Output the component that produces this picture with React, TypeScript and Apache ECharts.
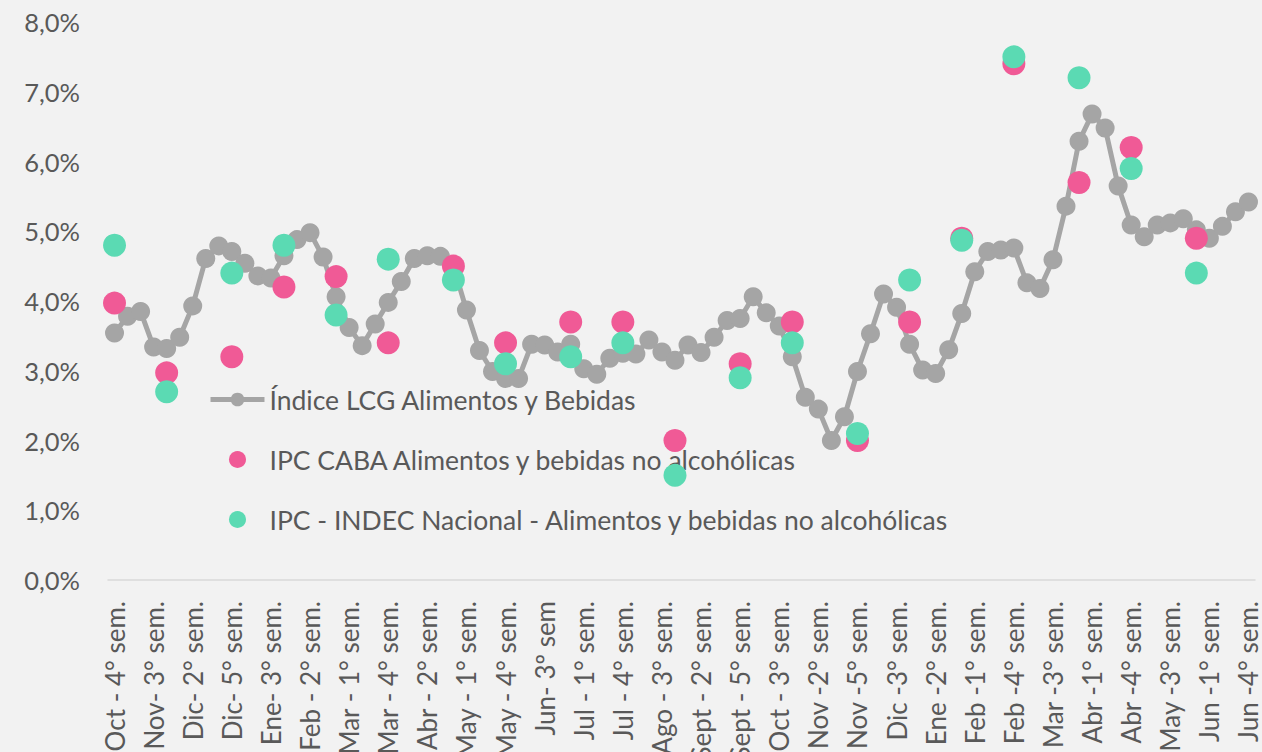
import React, { useEffect, useRef } from "react";
import * as echarts from "echarts";

const categories = [
  "Oct - 4° sem.", "Nov- 1° sem.", "Nov- 2° sem.", "Nov- 3° sem.", "Nov- 4° sem.",
  "Dic- 1° sem.", "Dic- 2° sem.", "Dic- 3° sem.", "Dic- 4° sem.", "Dic- 5° sem.",
  "Ene- 1° sem.", "Ene- 2° sem.", "Ene- 3° sem.", "Ene- 4° sem.",
  "Feb - 1° sem.", "Feb - 2° sem.", "Feb - 3° sem.", "Feb - 4° sem.",
  "Mar - 1° sem.", "Mar - 2° sem.", "Mar - 3° sem.", "Mar - 4° sem.", "Mar - 5° sem.",
  "Abr - 1° sem.", "Abr - 2° sem.", "Abr - 3° sem.", "Abr - 4° sem.",
  "May - 1° sem.", "May - 2° sem.", "May - 3° sem.", "May - 4° sem.",
  "Jun- 1º sem", "Jun- 2º sem", "Jun- 3º sem", "Jun- 4º sem", "Jun- 5º sem",
  "Jul - 1° sem.", "Jul - 2° sem.", "Jul - 3° sem.", "Jul - 4° sem.",
  "Ago - 1° sem.", "Ago - 2° sem.", "Ago - 3° sem.", "Ago - 4° sem.",
  "Sept - 1° sem.", "Sept - 2° sem.", "Sept - 3° sem.", "Sept - 4° sem.", "Sept - 5° sem.",
  "Oct - 1° sem.", "Oct - 2° sem.", "Oct - 3° sem.", "Oct - 4° sem. ",
  "Nov -1° sem.", "Nov -2° sem.", "Nov -3° sem.", "Nov -4° sem.", "Nov -5° sem.",
  "Dic -1° sem.", "Dic -2° sem.", "Dic -3° sem.", "Dic -4° sem.",
  "Ene -1° sem.", "Ene -2° sem.", "Ene -3° sem.", "Ene -4° sem.",
  "Feb -1° sem.", "Feb -2° sem.", "Feb -3° sem.", "Feb -4° sem.",
  "Mar -1° sem.", "Mar -2° sem.", "Mar -3° sem.", "Mar -4° sem.", "Mar -5° sem.",
  "Abr -1° sem.", "Abr -2° sem.", "Abr -3° sem.", "Abr -4° sem.",
  "May -1° sem.", "May -2° sem.", "May -3° sem.", "May -4° sem.", "May -5° sem.",
  "Jun -1° sem.", "Jun -2° sem.", "Jun -3° sem.", "Jun -4° sem.",
];

const lcgValues = [
  3.54, 3.78, 3.85, 3.34, 3.32, 3.48, 3.93, 4.61, 4.79, 4.71,
  4.54, 4.36, 4.33, 4.65, 4.88, 4.98, 4.63, 4.06, 3.62, 3.36,
  3.67, 3.98, 4.28, 4.61, 4.65, 4.64, 4.5, 3.87, 3.29, 2.99,
  2.89, 2.89, 3.38, 3.37, 3.27, 3.38, 3.03, 2.95, 3.18, 3.25,
  3.24, 3.44, 3.27, 3.15, 3.37, 3.26, 3.48, 3.72, 3.75, 4.06,
  3.83, 3.64, 3.2, 2.62, 2.45, 2.0, 2.34, 2.99, 3.53, 4.1,
  3.91, 3.38, 3.01, 2.96, 3.3, 3.82, 4.42, 4.71, 4.73, 4.76,
  4.26, 4.18, 4.59, 5.36, 6.29, 6.68, 6.48, 5.65, 5.09, 4.92,
  5.09, 5.12, 5.18, 5.02, 4.9, 5.07, 5.28, 5.42,
];

// Last week of each month, where the monthly CPI figures are plotted
const monthlyWeeks = [
  "Oct - 4° sem.", "Nov- 4° sem.", "Dic- 5° sem.", "Ene- 4° sem.", "Feb - 4° sem.",
  "Mar - 4° sem.", "Abr - 4° sem.", "May - 4° sem.", "Jun- 5º sem", "Jul - 4° sem.",
  "Ago - 4° sem.", "Sept - 5° sem.", "Oct - 4° sem. ", "Nov -5° sem.", "Dic -4° sem.",
  "Ene -4° sem.", "Feb -4° sem.", "Mar -5° sem.", "Abr -4° sem.", "May -5° sem.",
];

const cabaValues = [
  3.97, 2.97, 3.2, 4.2, 4.35, 3.4, 4.5, 3.4, 3.7, 3.7,
  2.0, 3.1, 3.7, 2.0, 3.7, 4.9, 7.4, 5.7, 6.2, 4.9,
];

const indecValues = [
  4.8, 2.7, 4.4, 4.8, 3.8, 4.6, 4.3, 3.1, 3.2, 3.4,
  1.5, 2.9, 3.4, 2.1, 4.3, 4.87, 7.5, 7.2, 5.9, 4.4,
];

const yTicks = [0, 1, 2, 3, 4, 5, 6, 7, 8];

const FONT = "Lato";
const TEXT = "#595959";
const GREY = "#a5a5a5";

export default function App() {
  const ref = useRef<HTMLDivElement>(null);
  useEffect(() => {
    if (!ref.current) return;
    const chart = echarts.init(ref.current, null, { renderer: "svg" });
    chart.setOption({
      animation: false,
      backgroundColor: "#f2f2f2",
      textStyle: { fontFamily: FONT },
      grid: { left: 108, right: 7, top: 22, bottom: 172, outerBoundsMode: "none", containLabel: false },
      legend: {
        orient: "vertical",
        left: 208,
        top: 386,
        padding: 0,
        itemWidth: 54,
        itemHeight: 17,
        itemGap: 33,
        textStyle: { color: TEXT, fontSize: 26.5, fontFamily: FONT, lineHeight: 24 },
        data: [
          {
            name: "Índice LCG Alimentos y Bebidas",
            lineStyle: { width: 5, color: GREY },
          },
          { name: "IPC CABA Alimentos y bebidas no alcohólicas", icon: "circle" },
          { name: "IPC - INDEC Nacional - Alimentos y bebidas no alcohólicas", icon: "circle" },
        ],
      },
      xAxis: {
        type: "category",
        data: categories,
        boundaryGap: true,
        axisLine: { lineStyle: { color: "#d9d9d9", width: 1.5 } },
        axisTick: { show: false },
        axisLabel: {
          interval: 2,
          rotate: 90,
          margin: 21,
          color: TEXT,
          fontSize: 26,
          fontFamily: FONT,
        },
      },
      yAxis: {
        type: "value",
        min: yTicks[0],
        max: yTicks[yTicks.length - 1],
        interval: 1,
        splitLine: { show: false },
        axisLine: { show: false },
        axisTick: { show: false },
        axisLabel: {
          margin: 28,
          color: TEXT,
          fontSize: 25.5,
          fontFamily: FONT,
          formatter: (v: number) => v.toFixed(1).replace(".", ",") + "%",
        },
      },
      series: [
        {
          name: "Índice LCG Alimentos y Bebidas",
          type: "line",
          data: lcgValues,
          symbol: "circle",
          symbolSize: 19,
          showAllSymbol: true,
          lineStyle: { color: GREY, width: 5 },
          itemStyle: { color: GREY },
          z: 2,
        },
        {
          name: "IPC CABA Alimentos y bebidas no alcohólicas",
          type: "scatter",
          data: monthlyWeeks.map((w, i) => [w, cabaValues[i]]),
          symbol: "circle",
          symbolSize: 23,
          itemStyle: { color: "#f05a96", opacity: 1 },
          z: 3,
        },
        {
          name: "IPC - INDEC Nacional - Alimentos y bebidas no alcohólicas",
          type: "scatter",
          data: monthlyWeeks.map((w, i) => [w, indecValues[i]]),
          symbol: "circle",
          symbolSize: 23,
          itemStyle: { color: "#5bdab3", opacity: 1 },
          z: 4,
        },
      ],
    });
    return () => chart.dispose();
  }, []);
  return <div ref={ref} style={{ width: 1262, height: 752, position: "absolute", left: 0, top: 0 }} />;
}
